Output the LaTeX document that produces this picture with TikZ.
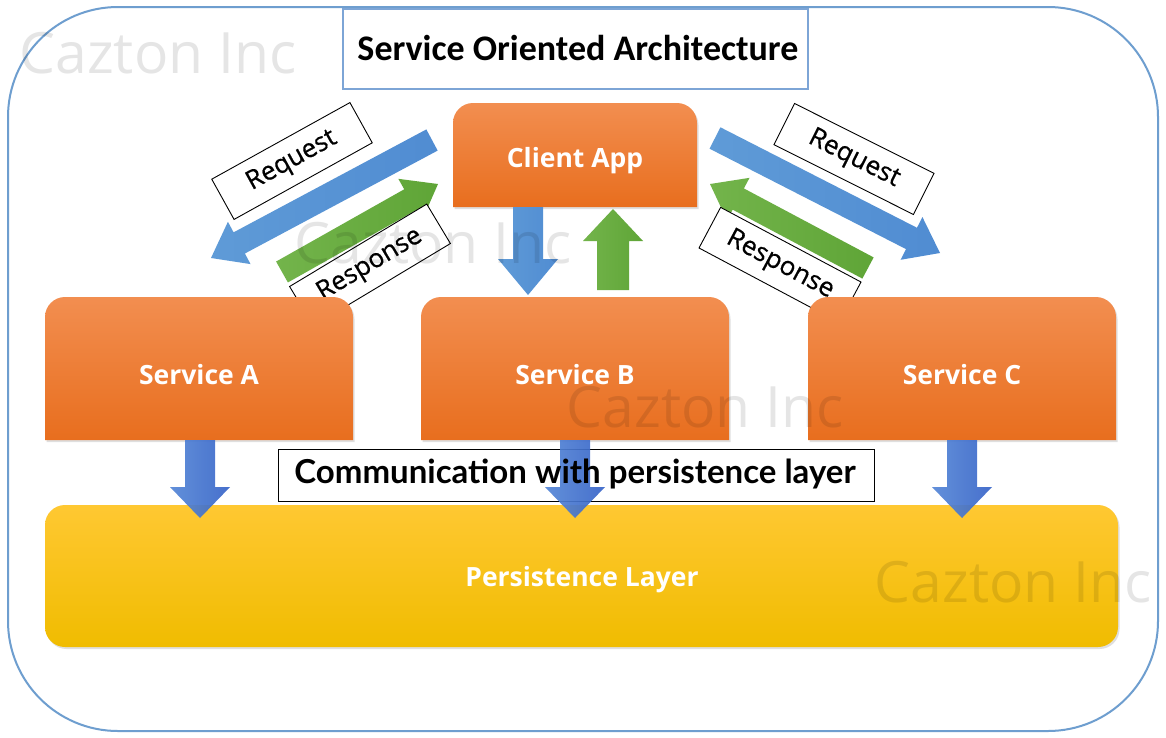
\documentclass[tikz,border=0pt]{standalone}
\usepackage{fontspec}
\setmainfont{Open Sans}
\newfontfamily\titlefont{Carlito}
\newfontfamily\commfont{Lato}
\newfontfamily\tagfont[FakeBold=0.6]{Open Sans}
\usetikzlibrary{shadows}
\definecolor{framebl}{RGB}{110,158,207}
\definecolor{titlebl}{RGB}{125,165,214}
\definecolor{orTop}{RGB}{242,142,80}
\definecolor{orBot}{RGB}{232,110,30}
\definecolor{yeTop}{RGB}{255,200,50}
\definecolor{yeBot}{RGB}{240,188,0}
\definecolor{blTail}{RGB}{95,155,215}
\definecolor{blTip}{RGB}{80,140,210}
\definecolor{dbTail}{RGB}{85,135,215}
\definecolor{dbTip}{RGB}{55,100,200}
\definecolor{grTail}{RGB}{115,180,75}
\definecolor{grTip}{RGB}{95,165,55}

% block arrow: from, to, style, half shaft, half head, head length
\newcommand{\barrow}[6]{%
  \pgfpointdiff{\pgfpointanchor{#1}{center}}{\pgfpointanchor{#2}{center}}%
  \pgfgetlastxy{\bax}{\bay}%
  \pgfmathsetmacro\baang{atan2(\bay,\bax)}%
  \pgfmathsetmacro\balen{veclen(\bax,\bay)}%
  \begin{scope}[shift={(#1)}, rotate=\baang, x=1pt, y=1pt]
    \shade[#3] (0,-#4) -- (\balen-#6,-#4) -- (\balen-#6,-#5) -- (\balen,0)
      -- (\balen-#6,#5) -- (\balen-#6,#4) -- (0,#4) -- cycle;
  \end{scope}}

% box with rounded top corners: name, x1, y1, x2, y2, text
\newcommand{\topbox}[6]{%
  \shade[orangebox] (#2,#5) -- (#2,#3+20) arc[start angle=180,end angle=90,radius=20pt]
    -- (#4-20,#3) arc[start angle=90,end angle=0,radius=20pt] -- (#4,#5) -- cycle;
  \node[boxlabel] (#1) at ({(#2+#4)/2},{(#3+#5)/2+6}) {#6};}

\begin{document}
\begin{tikzpicture}[x=1pt,y=-1pt,
  frame/.style={draw=framebl, line width=2pt, rounded corners=110pt},
  titlebox/.style={draw=titlebl, line width=1.6pt, fill=white},
  titletext/.style={font=\titlefont\bfseries\fontsize{36}{42}\selectfont},
  orangebox/.style={top color=orTop, bottom color=orBot,
    drop shadow={opacity=0.25, shadow xshift=1.5pt, shadow yshift=-2pt}},
  yellowbox/.style={top color=yeTop, bottom color=yeBot, rounded corners=20pt,
    drop shadow={opacity=0.25, shadow xshift=1.5pt, shadow yshift=-2pt}},
  boxlabel/.style={text=white, font=\bfseries\fontsize{26.5}{30}\selectfont},
  tagbox/.style={draw=black, line width=0.9pt, fill=white, minimum height=46pt,
    inner sep=0pt, font=\tagfont\fontsize{26}{30}\selectfont},
  commbox/.style={draw=black, line width=0.9pt, fill=white},
  commtext/.style={font=\commfont\bfseries\fontsize{33}{38}\selectfont},
  bluearrow/.style={left color=blTail, right color=blTip},
  dbluearrow/.style={left color=dbTail, right color=dbTip, opacity=0.92},
  greenarrow/.style={left color=grTail, right color=grTip},
  watermark/.style={text=black, text opacity=0.1, font=\fontsize{57}{66}\selectfont}
]
\useasboundingbox (0,0) rectangle (1166,737);
\fill[white] (0,0) rectangle (1166,737);

% outer frame
\draw[frame] (8,7) rectangle (1158,731);

% title
\draw[titlebox] (343,9) rectangle (808,89);
\node[titletext] (title) at (578,48) {Service Oriented Architecture};

% diagonal request/response arrows
\coordinate (lreqS) at (432,140);  \coordinate (lreqE) at (211,258);
\coordinate (lresS) at (282,272);  \coordinate (lresE) at (438,184);
\coordinate (rreqS) at (715,138);  \coordinate (rreqE) at (940,253);
\coordinate (rresS) at (868,268);  \coordinate (rresE) at (710,184);
\barrow{lreqS}{lreqE}{bluearrow}{12}{24}{32}
\barrow{lresS}{lresE}{greenarrow}{12}{24}{32}
\barrow{rreqS}{rreqE}{bluearrow}{12}{24}{32}
\barrow{rresS}{rresE}{greenarrow}{12}{24}{32}

% tags
\node[tagbox, minimum width=158pt, rotate=29] (lreq) at (292,161) {Request};
\node[tagbox, minimum width=160pt, rotate=31] (lres) at (370,265) {Response};
\node[tagbox, minimum width=156pt, rotate=-26.6] (rreq) at (854,159) {Request};
\node[tagbox, minimum width=159pt, rotate=-28] (rres) at (780,265) {Response};

% client app
\topbox{client}{453}{103}{697}{207}{Client App}

% client <-> service B arrows
\coordinate (cbS) at (528,207); \coordinate (cbE) at (528,295);
\coordinate (bcS) at (613,290); \coordinate (bcE) at (613,209);
\barrow{cbS}{cbE}{bluearrow}{15}{30}{36}
\barrow{bcS}{bcE}{greenarrow}{16}{30}{32}

% services
\topbox{sa}{45}{297}{353}{440}{Service A}
\topbox{sb}{421}{297}{729}{440}{Service B}
\topbox{sc}{808}{297}{1116}{440}{Service C}

% persistence layer
\shade[yellowbox] (45,505) rectangle (1118,647);
\node[boxlabel] (pl) at (582,580) {Persistence Layer};

% communication label box
\draw[commbox] (278,449) rectangle (874,501);

% service -> persistence arrows
\coordinate (aS) at (200,440); \coordinate (aE) at (200,518);
\coordinate (bS) at (575,440); \coordinate (bE) at (575,518);
\coordinate (cS) at (962,440); \coordinate (cE) at (962,518);
\barrow{aS}{aE}{dbluearrow}{15}{30}{31}
\barrow{bS}{bE}{dbluearrow}{15}{30}{31}
\barrow{cS}{cE}{dbluearrow}{15}{30}{31}

\node[commtext] (comm) at (575,474) {Communication with persistence layer};

% watermarks
\node[watermark] (wm1) at (158,53) {Cazton Inc};
\node[watermark] (wm2) at (433,243) {Cazton Inc};
\node[watermark] (wm3) at (705,407) {Cazton Inc};
\node[watermark] (wm4) at (1013,582) {Cazton Inc};
\end{tikzpicture}
\end{document}
